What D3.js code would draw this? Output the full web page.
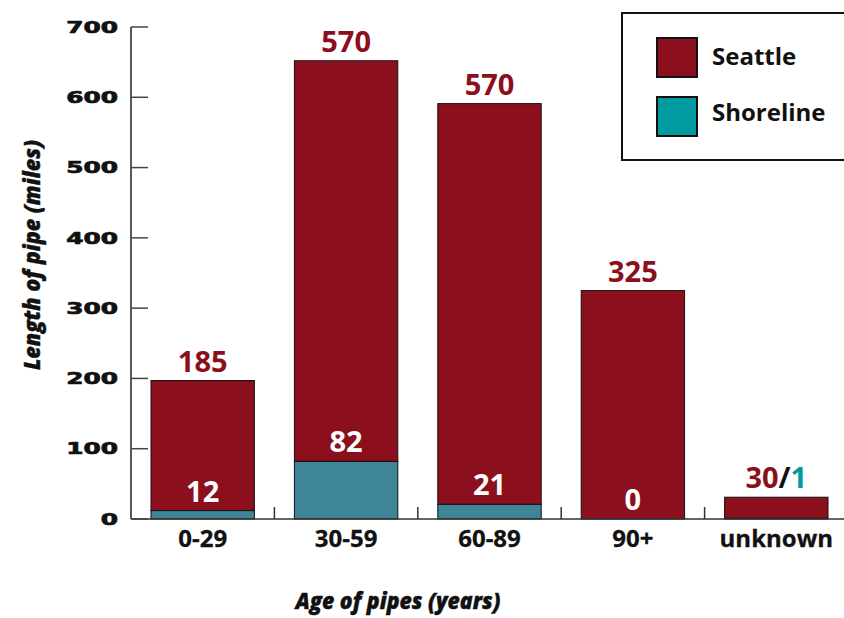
<!DOCTYPE html>
<html><head><meta charset="utf-8">
<script src="https://cdn.jsdelivr.net/npm/d3@7"></script>
<style>
html,body{margin:0;padding:0;background:#fff;}
svg{display:block;}
</style></head>
<body>
<svg id="chart" width="844" height="618"></svg>
<script>
const categories = ["0-29", "30-59", "60-89", "90+", "unknown"];
const seattle = [185, 570, 570, 325, 30];
const shoreline = [12, 82, 21, 0, 1];
const yTicks = [0, 100, 200, 300, 400, 500, 600, 700];
const seriesNames = ["Seattle", "Shoreline"];

const colSeattle = "#8b0f1c";
const colShoreBar = "#3e8597";
const colShoreLegend = "#009ba0";

const svg = d3.select("#chart");
const x = d3.scaleBand().domain(categories).range([131, 848]).paddingInner(0.279).paddingOuter(0.1395);
const y = d3.scaleLinear().domain([0, 700]).range([519, 27]);

const rows = categories.map((c, i) => ({cat: c, Shoreline: shoreline[i], Seattle: seattle[i]}));
const stack = d3.stack().keys(["Shoreline", "Seattle"])(rows);

// bars
const g = svg.append("g");
stack.forEach(layer => {
  g.selectAll(null).data(layer).enter().append("rect")
    .attr("x", d => x(d.data.cat))
    .attr("width", x.bandwidth())
    .attr("y", d => y(d[1]))
    .attr("height", d => y(d[0]) - y(d[1]))
    .attr("fill", layer.key === "Seattle" ? colSeattle : colShoreBar)
    .attr("stroke", "#111")
    .attr("stroke-width", 1);
});

// axes
const axisG = svg.append("g");
axisG.append("line").attr("x1", 131).attr("x2", 131).attr("y1", y(700)).attr("y2", y(0))
  .attr("stroke", "#222").attr("stroke-width", 1.5);
axisG.append("line").attr("x1", 131).attr("x2", 844).attr("y1", y(0)).attr("y2", y(0))
  .attr("stroke", "#333").attr("stroke-width", 1.5);
yTicks.forEach(t => {
  axisG.append("line").attr("x1", 131).attr("x2", 148).attr("y1", y(t)).attr("y2", y(t))
    .attr("stroke", "#444").attr("stroke-width", 1.5);
  axisG.append("g").attr("transform", `translate(118,${y(t)}) scale(1.55,1)`)
    .append("text").attr("text-anchor", "end").attr("dy", "0.36em")
    .attr("font-family", "DejaVu Sans").attr("font-weight", "bold").attr("font-size", 16)
    .attr("fill", "#111").attr("stroke", "#111").attr("stroke-width", 0.7).text(t);
});
// category separators
categories.slice(1).forEach(c => {
  const bx = x(c) - x.step() * x.paddingInner() / 2;
  axisG.append("line").attr("x1", bx).attr("x2", bx).attr("y1", y(0)).attr("y2", y(0) - 12)
    .attr("stroke", "#333").attr("stroke-width", 1.5);
});
categories.forEach(c => {
  const t = axisG.append("text").attr("x", x(c) + x.bandwidth() / 2).attr("y", 547)
    .attr("text-anchor", "middle").attr("font-family", "Open Sans").attr("font-weight", 700)
    .attr("font-size", 24).attr("fill", "#111").attr("stroke", "#111").attr("stroke-width", 0.3).text(c);
  const bb = t.node().getBBox();
  if (bb.x + bb.width > 843) t.attr("x", 843 - bb.width / 2);
});

// value labels
const lab = svg.append("g").attr("font-family", "Open Sans").attr("font-weight", 700)
  .attr("font-size", 29).attr("text-anchor", "middle");
rows.forEach((r, i) => {
  const cx = x(r.cat) + x.bandwidth() / 2;
  const top = y(r.Seattle + r.Shoreline);
  if (r.Seattle >= 100) {
    lab.append("text").attr("x", cx).attr("y", top - 9).attr("fill", colSeattle).text(r.Seattle);
    lab.append("text").attr("x", cx).attr("y", y(r.Shoreline) - 9).attr("fill", "#fff").text(r.Shoreline);
  } else {
    const t = lab.append("text").attr("x", cx).attr("y", top - 9);
    t.append("tspan").attr("fill", colSeattle).text(r.Seattle);
    t.append("tspan").attr("fill", "#111").text("/");
    t.append("tspan").attr("fill", colShoreLegend).text(r.Shoreline);
  }
});

// axis titles
svg.append("text").attr("x", 398).attr("y", 609).attr("text-anchor", "middle")
  .attr("font-family", "Open Sans").attr("font-weight", 800).attr("font-style", "italic")
  .attr("font-size", 22).attr("textLength", 205).attr("lengthAdjust", "spacingAndGlyphs")
  .attr("fill", "#111").attr("stroke", "#111").attr("stroke-width", 0.4).text("Age of pipes (years)");
svg.append("text").attr("transform", "translate(40,255) rotate(-90)").attr("text-anchor", "middle")
  .attr("font-family", "Open Sans").attr("font-weight", 800).attr("font-style", "italic")
  .attr("font-size", 22).attr("textLength", 230).attr("lengthAdjust", "spacingAndGlyphs")
  .attr("fill", "#111").attr("stroke", "#111").attr("stroke-width", 0.4).text("Length of pipe (miles)");

// legend
const leg = svg.append("g");
leg.append("rect").attr("x", 622).attr("y", 13).attr("width", 240).attr("height", 147)
  .attr("fill", "#fff").attr("stroke", "#111").attr("stroke-width", 2);
const legCols = [colSeattle, colShoreLegend];
seriesNames.forEach((n, i) => {
  leg.append("rect").attr("x", 657).attr("y", 38 + i * 59).attr("width", 40).attr("height", 39)
    .attr("fill", legCols[i]).attr("stroke", "#111").attr("stroke-width", 2);
  leg.append("text").attr("x", 712).attr("y", 65 + i * 56).attr("font-family", "Open Sans")
    .attr("font-weight", 700).attr("font-size", 24).attr("fill", "#111").text(n);
});
</script>
</body></html>
